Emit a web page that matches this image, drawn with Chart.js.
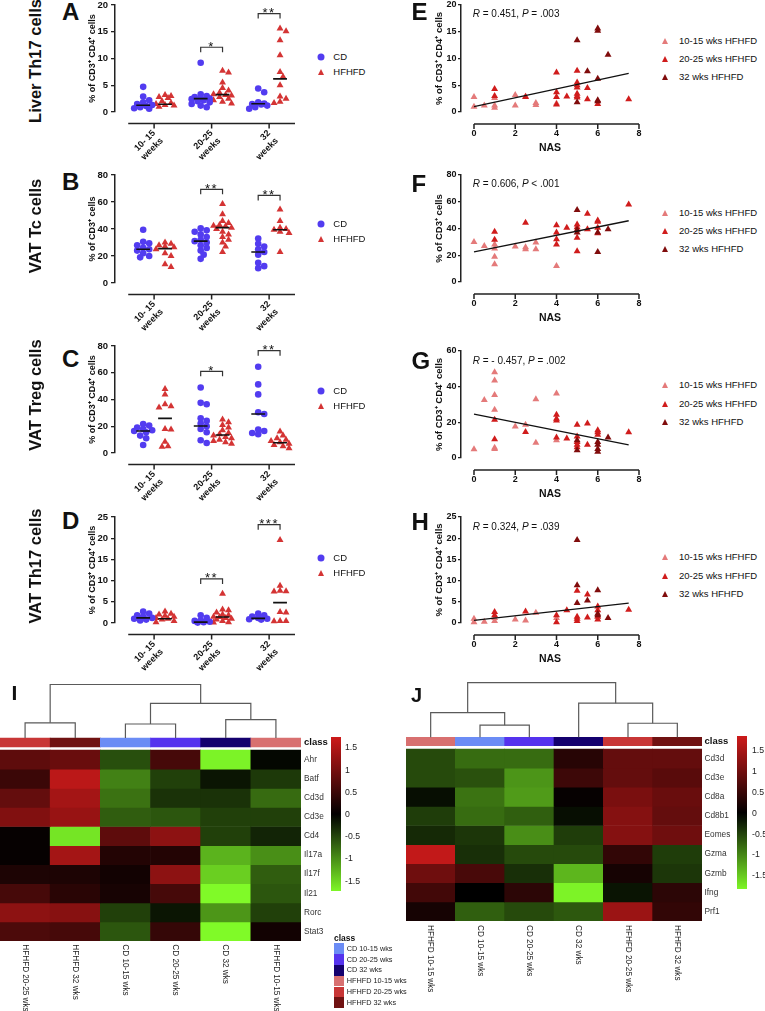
<!DOCTYPE html>
<html><head><meta charset="utf-8">
<script src="https://cdn.jsdelivr.net/npm/chart.js@4.4.1/dist/chart.umd.min.js"></script>
<style>
html,body{margin:0;padding:0;background:#fff;}
body{width:765px;height:1011px;position:relative;overflow:hidden;font-family:'Liberation Sans',Arial,sans-serif;color:#111;}
canvas{position:absolute;}
.abs{position:absolute;white-space:nowrap;}
.letter{font-weight:bold;font-size:24px;line-height:24px;}
.rowt{font-weight:bold;font-size:16.5px;line-height:1;transform:translate(-50%,-50%) rotate(-90deg);}
.lg{font-size:9.5px;line-height:1;transform:translateY(-50%);}
.rtxt{font-size:10px;line-height:1;transform:translateY(-50%);}
.dot{position:absolute;width:7px;height:7px;border-radius:50%;transform:translate(-50%,-50%);}
.tri{position:absolute;width:0;height:0;border-left:3.7px solid transparent;border-right:3.7px solid transparent;border-bottom-width:6.3px;border-bottom-style:solid;transform:translate(-50%,-50%);}
.box{position:absolute;width:10.3px;height:10.8px;}
.cl{font-size:7.3px;line-height:1;transform:translateY(-50%);color:#222;}
</style></head><body>
<script>
// ---------------- DATA ----------------
const CAT_LABELS = [['10- 15','weeks'],['20-25','weeks'],['32','weeks']];
const SIG_LABELS_A = ['', '*', '**'];
const SIG_LABELS_B = ['', '**', '**'];
const SIG_LABELS_C = ['', '*', '**'];
const SIG_LABELS_D = ['', '**', '***'];

// Panel A: Liver Th17 (% of CD3+ CD4+)
const A_CD = [[4.7,2.9,2.2,1.8,1.5,1.3,1.1,0.9,0.7,0.6],[9.2,3.3,3.0,2.8,2.6,2.5,2.4,2.2,2.0,1.8,1.5,1.2,0.9],[4.4,3.7,1.8,1.6,1.5,1.4,1.2,0.9,0.6]];
const A_HF = [[3.2,3.0,2.8,2.6,2.0,1.7,1.5,1.3,1.2,1.0],[7.7,7.4,5.5,4.5,4.0,3.6,3.3,3.2,3.1,2.8,2.5,2.2,1.9,1.6],[15.6,15.1,13.4,10.6,7.5,6.6,5.0,2.9,2.5,1.9,1.7]];
const A_CD_MEDIAN = [1.25,2.5,1.55];
const A_HF_MEDIAN = [1.45,3.25,6.2];
const A_BRACKET = [null,12.1,18.4];

// Panel B: VAT Tc (% of CD3+)
const B_CD = [[39.4,30.5,29.5,28,26,25,24,22,20,19],[40.5,39,38,36,34,32,31,30,28,26,24,21,17.9],[33,29,27,25,23,21,15,12.5,11]];
const B_HF = [[30,29,28,27,26.5,25,22,20,13.9,11.9],[58.6,51,46,44.5,43,42.5,42,41,40,38,36,34,32,30,27,23],[54.4,46,41,40,39.5,38,37,23]];
const B_CD_MEDIAN = [25,31,23];
const B_HF_MEDIAN = [25.5,41,39.5];
const B_BRACKET = [null,69.4,64.9];

// Panel C: VAT Treg (% of CD3+ CD4+)
const C_CD = [[21.7,20.5,19,18,17,16.5,15.5,13,11,6],[49,37.5,36.5,26,24,22,20,18,15.5,9.5,7.5],[64.5,51.3,43.8,30.5,29.2,17.5,16.5,15,14]];
const C_HF = [[47.9,43.8,36.5,35,34,18,17.5,8.5,5,4.7],[25,23,21,19,17,15,14,13,12,11,10,9,8,7],[16,13,11,10,9,8,7,6,5,3.5]];
const C_CD_MEDIAN = [16.5,20.2,29.2];
const C_HF_MEDIAN = [25.9,13.5,7.7];
const C_BRACKET = [null,61.1,76.5];

// Panel D: VAT Th17 (% of CD3+ CD4+)
const D_CD = [[2.7,2.2,1.8,1.5,1.2,1.0,0.8,0.6],[1.8,1.2,0.6,0.5,0.3,0.2,0.1],[2.2,1.8,1.5,1.2,1.0,0.9,0.8]];
const D_HF = [[2.7,2.2,2.0,1.7,1.5,1.2,1.0,0.8,0.5,0.2],[6.9,3.2,3.0,2.5,2.0,1.8,1.5,1.4,1.2,1.0,0.8,0.5,0.2,0.1],[19.6,8.8,7.6,7.5,7.4,2.6,2.5,0.5,0.5,0.4]];
const D_CD_MEDIAN = [1.2,0.2,1.1];
const D_HF_MEDIAN = [1.0,1.4,4.8];
const D_BRACKET = [null,10.4,23.2];

// Panels E-H: [NAS, %] pairs per HFHFD group
const E_1015 = [[0,2.8],[0,1.0],[0.5,1.2],[1,2.6],[1,1.2],[1,0.8],[2,3.2],[2,1.2],[2.5,2.9],[3,1.7],[3,1.3],[4,1.6]];
const E_2025 = [[1,4.3],[1,3.0],[2.5,2.8],[4,7.4],[4,3.7],[4,2.8],[4,1.4],[4.5,2.9],[5,7.7],[5,5.5],[5,5.0],[5,4.6],[5,3.4],[5,3.0],[5,2.7],[5.5,4.5],[5.5,2.4],[6,1.5],[7.5,2.4]];
const E_32   = [[5,13.4],[5,1.8],[5.5,7.6],[6,15.6],[6,15.2],[6,6.2],[6,2.2],[6,2.0],[6.5,10.7]];
const E_FIT  = [[0,1.0],[7.5,7.2]];

const F_1015 = [[0,30],[0.5,27],[1,28],[1,25],[1,18.8],[1,13.3],[2,26.5],[2.5,26],[2.5,24.5],[3,29.5],[3,24.5],[4,12]];
const F_2025 = [[1,37.5],[1,31.5],[2.5,44.3],[4,42.5],[4,37],[4,32],[4,28],[4.5,40.5],[5,43],[5,41],[5,33],[5,23],[5.5,51],[5.5,39.5],[6,46],[6,45],[6,40.5],[6,36.5],[7.5,58]];
const F_32   = [[5,53.8],[5,39],[5,37],[6,37],[6,22.5],[6.5,39.5]];
const F_FIT  = [[0,22.5],[7.5,45.8]];

const G_1015 = [[0,4.9],[0.5,32.5],[1,48.1],[1,43.4],[1,35.3],[1,27],[1,5.8],[1,5],[2,17.6],[2.5,18.6],[3,33],[3,8.6],[4,36.2],[4,10]];
const G_2025 = [[1,21.4],[1,10.5],[2.5,14.6],[4,24.2],[4,22],[4,21],[4,11.5],[4.5,11],[5,18.6],[5,12],[5,9],[5,7.5],[5,6],[5.5,19.3],[5.5,7.5],[6,15.5],[6,14.5],[6,13],[7.5,14.5]];
const G_32   = [[5,10],[5,4.3],[6,9],[6,7.5],[6,5],[6,3.5],[6.5,11.5]];
const G_FIT  = [[0,24.6],[7.5,7.3]];

const H_1015 = [[0,1.0],[0,0.2],[0.5,0.3],[1,1.2],[1,0.5],[2,0.8],[2.5,0.6],[3,2.4],[4,1.2]];
const H_2025 = [[1,2.6],[1,1.8],[2.5,2.7],[4,1.8],[4,0.2],[4.5,3.0],[5,7.6],[5,1.5],[5,1.0],[5,0.5],[5.5,6.7],[5.5,1.3],[6,3.9],[6,3.0],[6,1.5],[6,0.8],[7.5,3.1]];
const H_32   = [[5,19.6],[5,8.9],[5,4.7],[5.5,5.3],[6,7.7],[6,2.2],[6,1.8],[6.5,1.2]];
const H_FIT  = [[0,0.6],[7.5,4.7]];

// Heatmaps
const CLASS_NAMES = ['CD 10-15 wks','CD 20-25 wks','CD 32 wks','HFHFD 10-15 wks','HFHFD 20-25 wks','HFHFD 32 wks'];
const CLASS_COLORS = ['#6b8cf5','#5533ee','#14006e','#d87070','#c83636','#701212'];
const I_COLS = ['HFHFD 20-25 wks','HFHFD 32 wks','CD 10-15 wks','CD 20-25 wks','CD 32 wks','HFHFD 10-15 wks'];
const I_ROWS = ['Ahr','Batf','Cd3d','Cd3e','Cd4','Il17a','Il17f','Il21','Rorc','Stat3'];
const I_VALUES = [
 [0.8,0.9,-0.55,0.6,-1.7,-0.05],
 [0.5,1.6,-0.9,-0.45,-0.15,-0.4],
 [0.85,1.4,-0.8,-0.35,-0.35,-0.75],
 [1.1,1.3,-0.65,-0.6,-0.45,-0.45],
 [0.05,-1.6,0.8,1.2,-0.45,-0.25],
 [0.05,1.4,0.3,0.3,-1.25,-1.0],
 [0.25,0.25,0.15,1.2,-1.45,-0.65],
 [0.6,0.35,0.2,0.6,-1.75,-0.6],
 [1.2,1.15,-0.45,-0.15,-1.05,-0.45],
 [0.65,0.6,-0.6,0.45,-1.75,0.15]];
const I_MERGES = [[0,1,0.80],[2,3,0.74],[4,5,0.97],[7,8,1.82],[6,9,2.81]];
const J_COLS = ['HFHFD 10-15 wks','CD 10-15 wks','CD 20-25 wks','CD 32 wks','HFHFD 20-25 wks','HFHFD 32 wks'];
const J_ROWS = ['Cd3d','Cd3e','Cd8a','Cd8b1','Eomes','Gzma','Gzmb','Ifng','Prf1'];
const J_VALUES = [
 [-0.55,-0.8,-0.8,0.35,0.9,0.9],
 [-0.55,-0.6,-1.1,0.55,0.9,0.8],
 [-0.1,-0.85,-1.15,0.05,1.1,0.95],
 [-0.45,-0.8,-0.7,-0.1,1.2,0.9],
 [-0.3,-0.4,-1.05,-0.45,1.2,1.0],
 [1.75,-0.35,-0.55,-0.55,0.45,-0.45],
 [1.0,0.65,-0.35,-1.35,0.2,-0.4],
 [0.6,0.0,0.4,-1.8,-0.15,0.4],
 [0.2,-0.7,-0.55,-0.65,1.4,0.45]];
const J_MERGES = [[1,2,0.64],[0,6,1.30],[4,5,0.74],[3,8,1.79],[7,9,2.87]];
const CB_TICKS = [-1.5,-1,-0.5,0,0.5,1,1.5];

// ---------------- STYLE / HELPERS ----------------
const FONT = "'Liberation Sans', Arial, sans-serif";
const COL_CD='rgb(82,60,240)', COL_HF='rgb(212,52,52)';
const COL_1015='rgb(228,122,122)', COL_2025='rgb(208,28,28)', COL_32='rgb(128,12,12)';
Chart.defaults.font.family = FONT;
Chart.defaults.color = '#111';
Chart.defaults.animation = false;
Chart.defaults.plugins.legend.display = false;
Chart.defaults.plugins.tooltip.enabled = false;
let uid = 0;

function mkCanvas(left, top, w, h){
  const c=document.createElement('canvas');
  w=Math.round(w); h=Math.round(h);
  c.width=w; c.height=h;
  c.style.left=Math.round(left)+'px'; c.style.top=Math.round(top)+'px';
  c.style.width=w+'px'; c.style.height=h+'px';
  document.body.appendChild(c); return c;
}
function addDiv(html, cls, left, top, extra){
  const d=document.createElement('div'); d.className='abs '+cls; d.innerHTML=html;
  d.style.left=left+'px'; d.style.top=top+'px'; if(extra) d.style.cssText+=extra;
  document.body.appendChild(d); return d;
}
function heatColor(v, m){
  const t=Math.max(-1,Math.min(1,v/m));
  if(t>=0) return `rgb(${Math.round(205*t)},${Math.round(26*t)},${Math.round(26*t)})`;
  const u=-t; return `rgb(${Math.round(128*u)},${Math.round(250*u)},${Math.round(40*u)})`;
}
// deterministic dot-plot spreading (layout only, values untouched)
function swarm(vals, cx, pxX, pxY){
  const idx=vals.map((v,i)=>i).sort((a,b)=>vals[b]-vals[a]);
  const placed=[], out=[]; const ks=[0,1,-1,2,-2,3,-3];
  idx.forEach(i=>{
    const py=vals[i]*pxY; let best=0, bestD=-1;
    for(const k of ks){
      const c=k*3.0;
      const d=placed.length?Math.min(...placed.map(p=>Math.hypot(p[0]-c,p[1]-py))):99;
      if(d>=5){best=c;bestD=d;break;}
      if(d>bestD){bestD=d;best=c;}
    }
    placed.push([best,py]); out.push({x:cx+best/pxX, y:vals[i]});
  });
  return out;
}
function prism(o){
  return {id:'prism'+(uid++), afterDraw(chart){
    const {ctx, chartArea:ca, scales:{x,y}}=chart;
    ctx.save(); ctx.strokeStyle='#222'; ctx.lineWidth=1.5;
    const yy=ca.bottom+o.gap;
    ctx.beginPath(); ctx.moveTo(x.getPixelForValue(o.lo),yy); ctx.lineTo(x.getPixelForValue(o.hi),yy);
    o.ticks.forEach(t=>{const px=x.getPixelForValue(t); ctx.moveTo(px,yy); ctx.lineTo(px,yy+5);});
    ctx.stroke();
    if(o.sig){
      ctx.fillStyle='#111'; ctx.font="13px "+FONT; ctx.textAlign='center'; ctx.textBaseline='alphabetic';
      try{ctx.letterSpacing='1.5px';}catch(e){}
      o.sig.forEach(s=>ctx.fillText(s.t, x.getPixelForValue(s.x), y.getPixelForValue(s.y)+3.5));
    }
    ctx.restore();
  }};
}

// ---------------- GROUP PANELS (A-D) ----------------
function groupPanel(sp){
  const PAD=10, PADR=20, XH=55, YW=35, LEFT=80, AREA_W=180;
  const areaH=sp.bottom-sp.top;
  const cv=mkCanvas(LEFT, sp.top-PAD, YW+AREA_W+PADR, PAD+areaH+XH);
  const xmin=-0.68, xmax=2.45, pxX=AREA_W/(xmax-xmin), pxY=areaH/sp.yMax, off=0.19, half=0.12;
  const cdPts=[], hfPts=[], med=[], br=[], sig=[];
  sp.cd.forEach((v,i)=>cdPts.push(...swarm(v,i-off,pxX,pxY)));
  sp.hf.forEach((v,i)=>hfPts.push(...swarm(v,i+off,pxX,pxY)));
  sp.cdMed.forEach((m,i)=>med.push({x:i-off-half,y:m},{x:i-off+half,y:m},{x:i,y:null}));
  sp.hfMed.forEach((m,i)=>med.push({x:i+off-half,y:m},{x:i+off+half,y:m},{x:i,y:null}));
  const drop=5/pxY;
  sp.bracket.forEach((t,i)=>{ if(t==null) return;
    br.push({x:i-off,y:t-drop},{x:i-off,y:t},{x:i+off,y:t},{x:i+off,y:t-drop},{x:i,y:null});
    sig.push({x:i,y:t,t:sp.sig[i]}); });
  new Chart(cv,{type:'scatter', data:{datasets:[
    {data:med, showLine:true, pointRadius:0, borderColor:'#111', borderWidth:1.6, spanGaps:false, clip:false},
    {data:br, showLine:true, pointRadius:0, borderColor:'#333', borderWidth:1.2, spanGaps:false, clip:false},
    {data:cdPts, pointStyle:'circle', pointRadius:3.3, backgroundColor:COL_CD, borderWidth:0, clip:false},
    {data:hfPts, pointStyle:'triangle', pointRadius:4, backgroundColor:COL_HF, borderWidth:0, clip:false}
  ]}, options:{responsive:false, devicePixelRatio:1, layout:{padding:{left:0,top:PAD,right:PADR,bottom:0}},
    scales:{
      x:{type:'linear', min:xmin, max:xmax, afterBuildTicks:s=>{s.ticks=[0,1,2].map(v=>({value:v}));},
         ticks:{callback:v=>CAT_LABELS[v], minRotation:45, maxRotation:45, autoSkip:false, padding:16, font:{size:9,weight:'bold'}, color:'#111'},
         grid:{display:false, drawTicks:false}, border:{display:false}, afterFit:s=>{s.height=XH;}},
      y:{min:0, max:sp.yMax, afterBuildTicks:s=>{s.ticks=sp.yTicks.map(v=>({value:v}));},
         ticks:{font:{size:9.5,weight:'bold'}, color:'#111', padding:3},
         grid:{drawOnChartArea:false, drawTicks:true, tickLength:4, color:'#222', lineWidth:1.3},
         border:{display:true, color:'#222', width:1.5},
         title:{display:true, text:sp.yTitle, font:{size:9,weight:'bold'}, color:'#111', padding:{top:7.6,bottom:0}},
         afterFit:s=>{s.width=YW;}}
    }}, plugins:[prism({lo:-0.45, hi:2.45, ticks:[0,1,2], gap:11.5, sig})]});
}

// ---------------- NAS PANELS (E-H) ----------------
function nasPanel(sp){
  const PAD=10, PADR=22, XH=45, YW=36, LEFT=425, AREA_W=178.3;
  const areaH=sp.bottom-sp.top;
  const cv=mkCanvas(LEFT, sp.top-PAD, YW+AREA_W+PADR, PAD+areaH+XH);
  const tri=(pts,col)=>({data:pts.map(([x,y])=>({x,y})), pointStyle:'triangle', pointRadius:4, backgroundColor:col, borderWidth:0, clip:false});
  new Chart(cv,{type:'scatter', data:{datasets:[
    {data:sp.fit.map(([x,y])=>({x,y})), showLine:true, pointRadius:0, borderColor:'#111', borderWidth:1.3, clip:false},
    tri(sp.g32,COL_32), tri(sp.g2025,COL_2025), tri(sp.g1015,COL_1015)
  ]}, options:{responsive:false, devicePixelRatio:1, layout:{padding:{left:0,top:PAD,right:PADR,bottom:0}},
    scales:{
      x:{type:'linear', min:-0.63, max:8, afterBuildTicks:s=>{s.ticks=[0,2,4,6,8].map(v=>({value:v}));},
         ticks:{font:{size:9,weight:'bold'}, color:'#111', padding:16.3, maxRotation:0},
         grid:{display:false, drawTicks:false}, border:{display:false},
         title:{display:true, text:'NAS', font:{size:10.5,weight:'bold'}, color:'#111', padding:{top:0,bottom:2.7}},
         afterFit:s=>{s.height=XH;}},
      y:{min:0, max:sp.yMax, afterBuildTicks:s=>{s.ticks=sp.yTicks.map(v=>({value:v}));},
         ticks:{font:{size:9,weight:'bold'}, color:'#111', padding:1.5},
         grid:{drawOnChartArea:false, drawTicks:true, tickLength:3, color:'#222', lineWidth:1.3},
         border:{display:true, color:'#222', width:1.5},
         title:{display:true, text:sp.yTitle, font:{size:9.5,weight:'bold'}, color:'#111', padding:{top:8.3,bottom:0}},
         afterFit:s=>{s.width=YW;}}
    }}, plugins:[prism({lo:0, hi:8, ticks:[0,2,4,6,8], gap:12})]});
}

// ---------------- HEATMAPS ----------------
function dendro(merges, base){
  const pos=[0,1,2,3,4,5], hgt=[0,0,0,0,0,0], segs=[];
  merges.forEach(([a,b,h])=>{
    segs.push([{x:pos[a],y:base-hgt[a]},{x:pos[a],y:base-h},{x:pos[b],y:base-h},{x:pos[b],y:base-hgt[b]}]);
    pos.push((pos[a]+pos[b])/2); hgt.push(h);
  });
  return segs;
}
function colLabels(labels, gap){
  return {id:'cl'+(uid++), afterDraw(chart){
    const {ctx, chartArea:ca, scales:{x}}=chart;
    ctx.save(); ctx.fillStyle='#222'; ctx.font="8.2px "+FONT; ctx.textAlign='left'; ctx.textBaseline='middle';
    labels.forEach((l,j)=>{ ctx.save(); ctx.translate(x.getPixelForValue(j), ca.bottom+gap); ctx.rotate(Math.PI/2); ctx.fillText(l,0,0); ctx.restore(); });
    ctx.restore();
  }};
}
function heatmap(sp){
  const PADL=10, PADT=10;
  const cvTop=sp.top-PADT;
  const cv=mkCanvas(sp.left-PADL, cvTop, PADL+(sp.right-sp.left)+sp.yw, 1011-Math.round(cvTop));
  const ds=[];
  dendro(sp.merges, sp.classTop).forEach(seg=>ds.push({type:'line', data:seg, borderColor:'#5a5a5a', borderWidth:1.2, pointRadius:0, fill:false, clip:false}));
  ds.push({type:'bar', data:sp.cols.map((c,j)=>({x:j,y:[sp.classTop,sp.classBot]})), backgroundColor:sp.cols.map(c=>CLASS_COLORS[CLASS_NAMES.indexOf(c)])});
  sp.rows.forEach((r,i)=>ds.push({type:'bar', data:sp.cols.map((c,j)=>({x:j,y:[i,i+1]})), backgroundColor:sp.cols.map((c,j)=>heatColor(sp.vals[i][j], sp.max))}));
  const cc=(sp.classTop+sp.classBot)/2;
  new Chart(cv,{type:'bar', data:{datasets:ds}, options:{responsive:false, devicePixelRatio:1,
    datasets:{bar:{barPercentage:1, categoryPercentage:1, grouped:false, borderWidth:0}},
    layout:{padding:{left:PADL, top:PADT, right:0, bottom:1011-sp.bottom}},
    scales:{
      x:{type:'linear', display:false, offset:false, min:-0.5, max:5.5, afterBuildTicks:s=>{s.ticks=[0,1,2,3,4,5].map(v=>({value:v}));}},
      y:{type:'linear', position:'right', reverse:true, min:sp.yMin, max:sp.rows.length,
         afterBuildTicks:s=>{s.ticks=[cc,...sp.rows.map((r,i)=>i+0.5)].map(v=>({value:v}));},
         ticks:{autoSkip:false, padding:sp.tickPad, callback:v=>v<0?'class':sp.rows[Math.floor(v)],
           font:c=>(c.tick&&c.tick.value<0)?{size:9.5,weight:'bold'}:{size:8.3},
           color:c=>(c.tick&&c.tick.value<0)?'#111':'#333'},
         grid:{display:false, drawTicks:false}, border:{display:false}, afterFit:s=>{s.width=sp.yw;}}
    }}, plugins:[colLabels(sp.cols, sp.labelGap)]});
}
function colorbar(sp){
  const PAD=12, W=10, YW=30;
  const cv=mkCanvas(sp.left-PAD, sp.top-PAD, PAD+W+YW, PAD+(sp.bottom-sp.top)+PAD);
  new Chart(cv,{type:'bar', data:{labels:['scale'], datasets:[{data:[[sp.lo,sp.hi]],
    backgroundColor:c=>{const ch=c.chart; if(!ch.chartArea) return '#000'; const ys=ch.scales.y;
      const g=ch.ctx.createLinearGradient(0,ys.getPixelForValue(sp.lo),0,ys.getPixelForValue(sp.hi));
      for(let i=0;i<=20;i++){ g.addColorStop(i/20, heatColor(sp.lo+(sp.hi-sp.lo)*i/20, sp.max)); } return g;},
    barPercentage:1, categoryPercentage:1, borderWidth:0}]},
    options:{responsive:false, devicePixelRatio:1, layout:{padding:{left:PAD,top:PAD,right:0,bottom:PAD}},
      scales:{x:{display:false},
        y:{position:'right', min:sp.lo, max:sp.hi, afterBuildTicks:s=>{s.ticks=CB_TICKS.map(v=>({value:v}));},
           ticks:{autoSkip:false, padding:sp.pad, font:{size:8.7}, color:'#222', callback:v=>String(v)},
           grid:{display:false, drawTicks:false}, border:{display:false}, afterFit:s=>{s.width=YW;}}}}});
}

// ---------------- BUILD ----------------
const T1='% of CD3⁺ CD4⁺ cells', T2='% of CD3⁺ cells';
groupPanel({top:5, bottom:112, yMax:20, yTicks:[0,5,10,15,20], cd:A_CD, hf:A_HF, cdMed:A_CD_MEDIAN, hfMed:A_HF_MEDIAN, bracket:A_BRACKET, sig:SIG_LABELS_A, yTitle:T1});
groupPanel({top:175, bottom:282.5, yMax:80, yTicks:[0,20,40,60,80], cd:B_CD, hf:B_HF, cdMed:B_CD_MEDIAN, hfMed:B_HF_MEDIAN, bracket:B_BRACKET, sig:SIG_LABELS_B, yTitle:T2});
groupPanel({top:346, bottom:453, yMax:80, yTicks:[0,20,40,60,80], cd:C_CD, hf:C_HF, cdMed:C_CD_MEDIAN, hfMed:C_HF_MEDIAN, bracket:C_BRACKET, sig:SIG_LABELS_C, yTitle:T1});
groupPanel({top:517, bottom:623, yMax:25, yTicks:[0,5,10,15,20,25], cd:D_CD, hf:D_HF, cdMed:D_CD_MEDIAN, hfMed:D_HF_MEDIAN, bracket:D_BRACKET, sig:SIG_LABELS_D, yTitle:T1});

nasPanel({top:5, bottom:112, yMax:20, yTicks:[0,5,10,15,20], g1015:E_1015, g2025:E_2025, g32:E_32, fit:E_FIT, yTitle:T1});
nasPanel({top:175, bottom:282, yMax:80, yTicks:[0,20,40,60,80], g1015:F_1015, g2025:F_2025, g32:F_32, fit:F_FIT, yTitle:T2});
nasPanel({top:350.5, bottom:457, yMax:60, yTicks:[0,20,40,60], g1015:G_1015, g2025:G_2025, g32:G_32, fit:G_FIT, yTitle:T1});
nasPanel({top:517, bottom:623, yMax:25, yTicks:[0,5,10,15,20,25], g1015:H_1015, g2025:H_2025, g32:H_32, fit:H_FIT, yTitle:T1});

heatmap({left:0, right:301, top:682, bottom:941, yMin:-3.57, rows:I_ROWS, cols:I_COLS, vals:I_VALUES, max:1.75, classTop:-0.63, classBot:-0.17, merges:I_MERGES, yw:30, tickPad:3, labelGap:3.3});
heatmap({left:406, right:702, top:681, bottom:921, yMin:-3.56, rows:J_ROWS, cols:J_COLS, vals:J_VALUES, max:1.85, classTop:-0.61, classBot:-0.17, merges:J_MERGES, yw:33, tickPad:2.5, labelGap:4});
colorbar({left:331, top:737, bottom:891, lo:-1.72, hi:1.75, max:1.75, pad:4});
colorbar({left:737, top:736, bottom:889, lo:-1.82, hi:1.86, max:1.85, pad:5});

// ---------------- TEXT / LEGENDS ----------------
[['A',62,0],['B',62,170],['C',62,347],['D',62,509],['E',411.5,0],['F',411.5,172],['G',411.5,349],['H',411.5,510]].forEach(([t,x,y])=>addDiv(t,'letter',x,y));
addDiv('I','letter',11.5,682,'font-size:21px;line-height:21px;');
addDiv('J','letter',411,685,'font-size:20px;line-height:20px;');
[['Liver Th17 cells',61],['VAT Tc cells',226],['VAT Treg cells',395],['VAT Th17 cells',566]].forEach(([t,y])=>addDiv(t,'rowt',35,y));
[57,224,391,558].forEach(y=>{
  addDiv('','dot',321,y,'background:'+COL_CD+';');
  addDiv('CD','lg',333.3,y);
  addDiv('','tri',321,y+14.5,'border-bottom-color:'+COL_HF+';');
  addDiv('HFHFD','lg',333.3,y+14.5);
});
[[40.7,59,77.3],[212.7,231,249.3],[385,404,422],[556.7,575.7,594]].forEach(ys=>{
  [[COL_1015,'10-15 wks HFHFD'],[COL_2025,'20-25 wks HFHFD'],[COL_32,'32 wks HFHFD']].forEach(([c,t],i)=>{
    addDiv('','tri',665,ys[i],'border-bottom-color:'+c+';');
    addDiv(t,'lg',679,ys[i]);
  });
});
[['<i>R</i> = 0.451, <i>P</i> = .003',14.3],['<i>R</i> = 0.606, <i>P</i> &lt; .001',184.3],['<i>R</i> = - 0.457, <i>P</i> = .002',360.7],['<i>R</i> = 0.324, <i>P</i> = .039',526.7]].forEach(([t,y])=>addDiv(t,'rtxt',472.7,y));
addDiv('class','cl',334,938,'font-weight:bold;font-size:8.5px;color:#111;');
CLASS_NAMES.forEach((n,i)=>{
  addDiv('','box',334,943.3+i*10.8,'background:'+CLASS_COLORS[i]+';');
  addDiv(n,'cl',346.7,943.3+i*10.8+5.4);
});
</script>
</body></html>
